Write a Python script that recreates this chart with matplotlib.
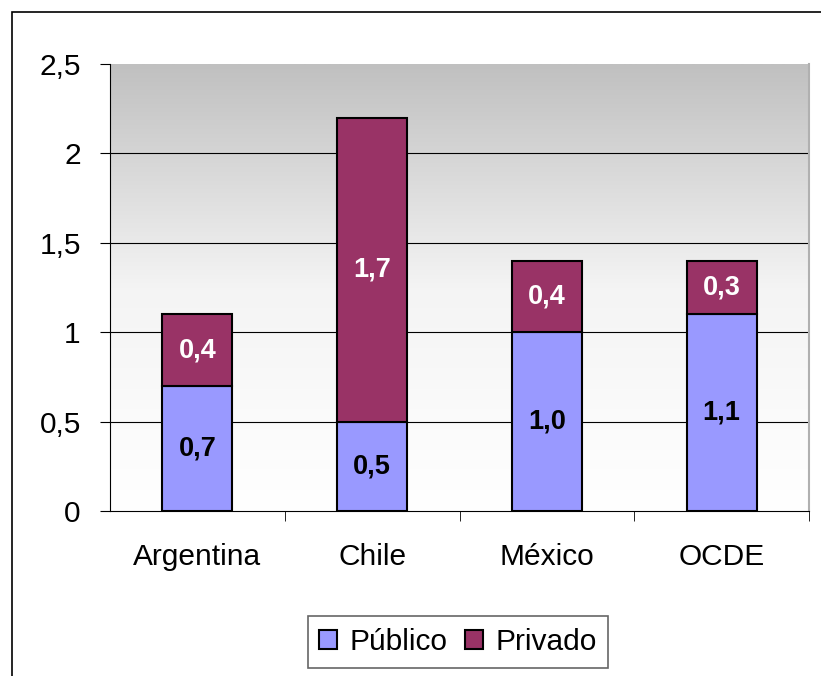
import matplotlib
matplotlib.use("Agg")
import matplotlib.pyplot as plt
import numpy as np
from matplotlib.patches import Rectangle

plt.rcParams['font.family'] = ['Liberation Sans', 'DejaVu Sans']

categories = ["Argentina", "Chile", "México", "OCDE"]
publico = [0.7, 0.5, 1.0, 1.1]
privado = [0.4, 1.7, 0.4, 0.3]
pub_labels = ["0,7", "0,5", "1,0", "1,1"]
priv_labels = ["0,4", "1,7", "0,4", "0,3"]
yticks = [0, 0.5, 1, 1.5, 2, 2.5]
ytick_labels = ["0", "0,5", "1", "1,5", "2", "2,5"]

fig = plt.figure(figsize=(8.21, 6.76), dpi=100)
# outer chart border
fig.patches.append(Rectangle((12/821, -0.05), 2.0, (676-12)/676 + 0.05, transform=fig.transFigure,
                             fill=False, edgecolor='black', linewidth=1.2, zorder=0))

ax = fig.add_axes([110/821, 1 - 511/676, 699/821, (511-64)/676])

# gradient background
grad = np.linspace(0, 1, 256).reshape(-1, 1)
cmap = matplotlib.colors.LinearSegmentedColormap.from_list("g", ["#ffffff", "#f4f4f4", "#c0c0c0"])
ax.imshow(grad, aspect='auto', cmap=cmap, origin='lower', extent=[0, 1, 0, 1],
          transform=ax.transAxes, zorder=0)

x = np.arange(len(categories))
w = 0.4
ax.bar(x, publico, w, color='#9999FF', edgecolor='black', linewidth=1.5, zorder=3, label='Público')
ax.bar(x, privado, w, bottom=publico, color='#993366', edgecolor='black', linewidth=1.5, zorder=3, label='Privado')

for i in range(len(categories)):
    ax.text(x[i], publico[i] / 2, pub_labels[i], ha='center', va='center', fontsize=19.5,
            fontweight='bold', color='black', zorder=4)
    ax.text(x[i], publico[i] + privado[i] / 2, priv_labels[i], ha='center', va='center', fontsize=19.5,
            fontweight='bold', color='white', zorder=4)

ax.set_xlim(-0.5, len(categories) - 0.5)
ax.set_ylim(0, 2.5)
ax.set_yticks(yticks)
ax.set_yticklabels(ytick_labels, fontsize=21.5)
for yv in yticks[1:-1]:
    ax.axhline(yv, color='black', linewidth=0.8, zorder=1)

ax.set_xticks(x)
ax.set_xticklabels(categories, fontsize=21.5)
ax.tick_params(axis='x', length=0, pad=23)
ax.set_xticks(np.arange(len(categories)) + 0.5, minor=True)
ax.tick_params(axis='x', which='minor', length=7, direction='out', color='black')
ax.tick_params(axis='y', length=7, direction='out', color='black', pad=14)

ax.spines['top'].set_visible(False)
ax.spines['right'].set_color('#b0b0b0')
ax.spines['right'].set_linewidth(1.5)
ax.spines['left'].set_color('black')
ax.spines['bottom'].set_color('black')

leg = fig.legend(loc='center', bbox_to_anchor=(458/821, 1 - 642/676), ncol=2, fontsize=21.5,
                 frameon=True, fancybox=False, edgecolor='#404040', handlelength=0.6,
                 handleheight=0.63, handletextpad=0.4, columnspacing=0.6, borderpad=0.4)
leg.get_frame().set_linewidth(1.2)

fig.savefig("out.png", dpi=100)
